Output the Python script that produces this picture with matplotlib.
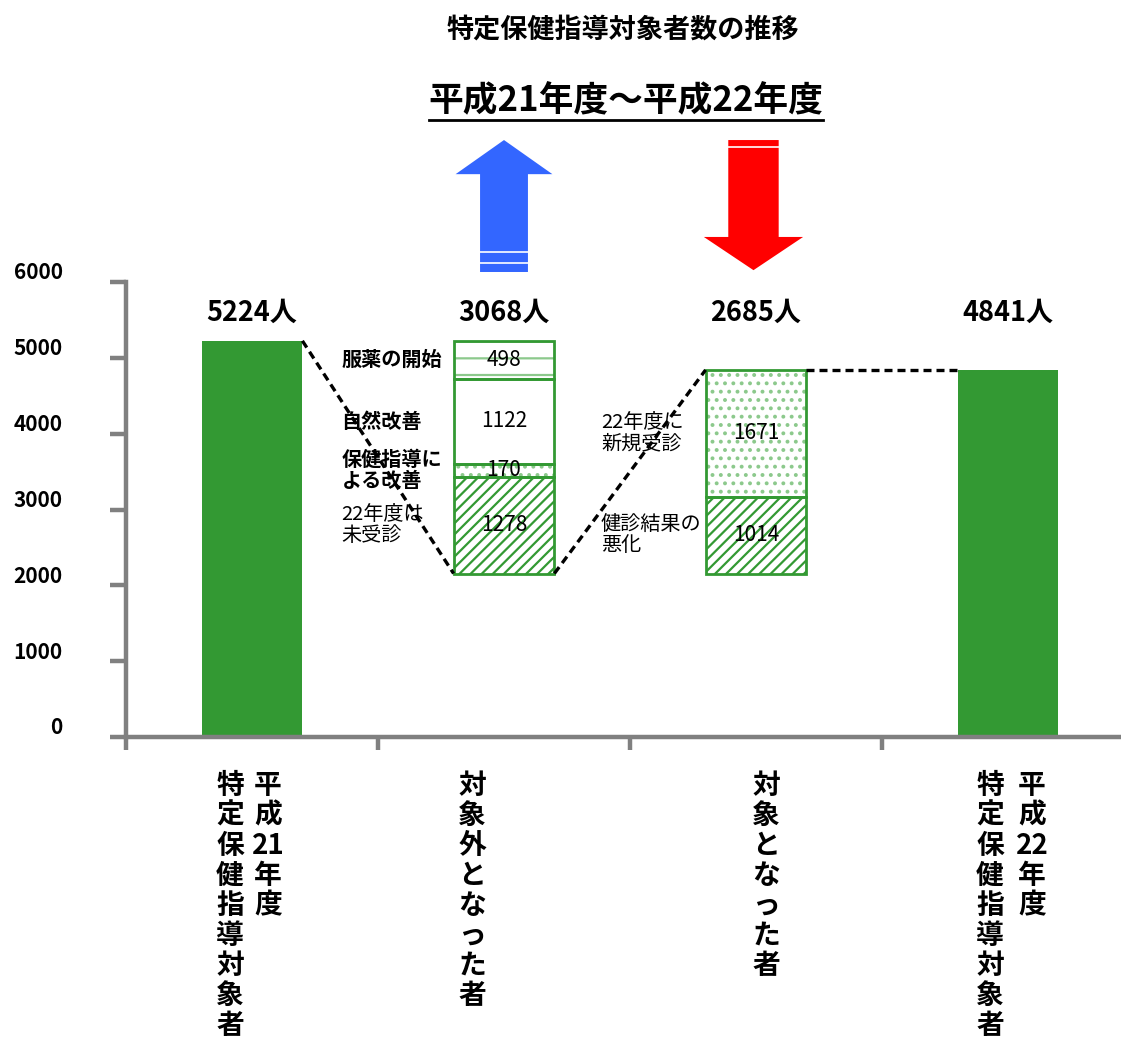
import re
import matplotlib
matplotlib.use('Agg')
import matplotlib.pyplot as plt
import matplotlib.transforms as mtransforms
from matplotlib.patches import Polygon
from matplotlib.lines import Line2D

plt.rcParams['font.family'] = ['Noto Sans CJK JP', 'DejaVu Sans']
plt.rcParams['hatch.linewidth'] = 1.6

# 対象者数（人）
totals = [5224, 3068, 2685, 4841]
value_labels = ['5224人', '3068人', '2685人', '4841人']
# 対象外となった者の内訳（下から）
out_values = [1278, 170, 1122, 498]
out_names = ['22年度は\n未受診', '保健指導に\nよる改善', '自然改善', '服薬の開始']
out_bold = [False, True, True, True]
# 対象となった者の内訳（下から）
in_values = [1014, 1671]
in_names = ['健診結果の\n悪化', '22年度に\n新規受診']
# 横軸ラベル（縦書き、列ごと）
cat_labels = [['特定保健指導対象者', '平成21年度'],
              ['対象外となった者'],
              ['対象となった者'],
              ['特定保健指導対象者', '平成22年度']]
cat_dx = [[-22, 16], [-32], [10], [-18, 24]]   # 列の横位置（px）
y_ticks = [0, 1000, 2000, 3000, 4000, 5000, 6000]

green = '#339933'
light = '#8cc98c'
gray = '#808080'
W = 0.4

fig = plt.figure(figsize=(11.21, 10.44), dpi=100)
ax = fig.add_axes([126 / 1121, 307 / 1044, 995 / 1121, 455 / 1044])
ax.set_xlim(-0.5, -0.5 + 995 / 252)
ax.set_ylim(0, 6000)

base = totals[0] - totals[1]

# 両端の棒
ax.bar([0, 3], [totals[0], totals[3]], width=W, color=green, zorder=2)


def segment(x, bottom, h, hatch, hcolor):
    if hatch:
        ax.bar(x, h, bottom=bottom, width=W, color='white', edgecolor=hcolor,
               hatch=hatch, linewidth=0, zorder=2)
    ax.bar(x, h, bottom=bottom, width=W, fill=False, edgecolor=green,
           linewidth=2, zorder=3)
    ax.text(x, bottom + h / 2, str(h), ha='center', va='center',
            fontsize=15, zorder=4)


out_styles = [('///', green), ('..', light), (None, None), ('-', light)]
bottom = base
for v, name, bold, (h, c) in zip(out_values, out_names, out_bold, out_styles):
    segment(1, bottom, v, h, c)
    ax.text(0.355, bottom + v / 2, name, ha='left', va='center', fontsize=14.5,
            fontweight='bold' if bold else 'normal', linespacing=1.0, zorder=4)
    bottom += v

in_styles = [('///', green), ('..', light)]
bottom = base
for v, name, (h, c) in zip(in_values, in_names, in_styles):
    segment(2, bottom, v, h, c)
    ax.text(1.385, bottom + v / 2, name, ha='left', va='center', fontsize=14.5,
            linespacing=1.0, zorder=4)
    bottom += v

# 点線のつなぎ
dash = dict(color='black', lw=2.4, ls=(0, (2.4, 1.5)), zorder=3)
ax.plot([W / 2, 1 - W / 2], [totals[0], base], **dash)
ax.plot([1 + W / 2, 2 - W / 2], [base, base + totals[2]], **dash)
ax.plot([2 + W / 2, 3 - W / 2], [totals[3], totals[3]], **dash)

# 数値ラベル
trans_xa = mtransforms.blended_transform_factory(ax.transData, ax.transAxes)
for i, lab in enumerate(value_labels):
    ax.text(i, 0.932, lab, transform=trans_xa, ha='center', va='center',
            fontsize=19.5, fontweight='bold')


# 矢印
def arrow(xc, y_tail, y_head, y_tip, shaft, head, color, stripes):
    pts = [(xc - shaft, y_tail), (xc - shaft, y_head), (xc - head, y_head),
           (xc, y_tip), (xc + head, y_head), (xc + shaft, y_head),
           (xc + shaft, y_tail)]
    ax.add_patch(Polygon(pts, closed=True, facecolor=color, edgecolor='none',
                         transform=trans_xa, clip_on=False))
    for ys in stripes:
        ax.add_line(Line2D([xc - shaft, xc + shaft], [ys, ys], color='white',
                           lw=1.2, transform=trans_xa, clip_on=False))


arrow(1.0, 1.022, 1.237, 1.312, 0.095, 0.192, '#3366ff', [1.066, 1.042])
arrow(1.99, 1.312, 1.099, 1.026, 0.1, 0.197, '#ff0000', [1.297])

# 軸
for s in ['top', 'right']:
    ax.spines[s].set_visible(False)
for s in ['left', 'bottom']:
    ax.spines[s].set_color(gray)
    ax.spines[s].set_linewidth(3.2)
ax.set_yticks(y_ticks)
ax.set_yticklabels([str(t) for t in y_ticks], fontsize=15, fontweight='bold')
ax.tick_params(axis='y', length=11.5, width=3.2, color=gray, pad=34)
ax.set_xticks([-0.5, 0.5, 1.5, 2.5])
ax.set_xticklabels([])
ax.tick_params(axis='x', length=9, width=3.2, color=gray)
shift = mtransforms.ScaledTranslation(0, 8 / 72, fig.dpi_scale_trans)
for lab in ax.get_yticklabels():
    lab.set_transform(lab.get_transform() + shift)

# 縦書きの項目名
for i, (cols, dxs) in enumerate(zip(cat_labels, cat_dx)):
    for col, dx in zip(cols, dxs):
        cells = re.findall(r'\d+|.', col)
        for k, cell in enumerate(cells):
            ax.annotate(cell, xy=(i, 0), xycoords=('data', 'axes fraction'),
                        xytext=(dx * 0.72, -35 - k * 21.6),
                        textcoords='offset points', ha='center', va='center',
                        fontsize=20, fontweight='bold')

# タイトル
fig.text(623 / 1121, 1 - 30 / 1044, '特定保健指導対象者数の推移', ha='center',
         va='center', fontsize=19.5, fontweight='bold')
sub = fig.text(626 / 1121, 1 - 101 / 1044, '平成21年度～平成22年度', ha='center',
               va='center', fontsize=25, fontweight='bold')
renderer = fig.canvas.get_renderer()
bb = sub.get_window_extent(renderer).transformed(fig.transFigure.inverted())
fig.add_artist(Line2D([bb.x0, bb.x1], [1 - 120 / 1044] * 2, color='black',
                      lw=2, transform=fig.transFigure))

fig.savefig('out.png', dpi=100)
